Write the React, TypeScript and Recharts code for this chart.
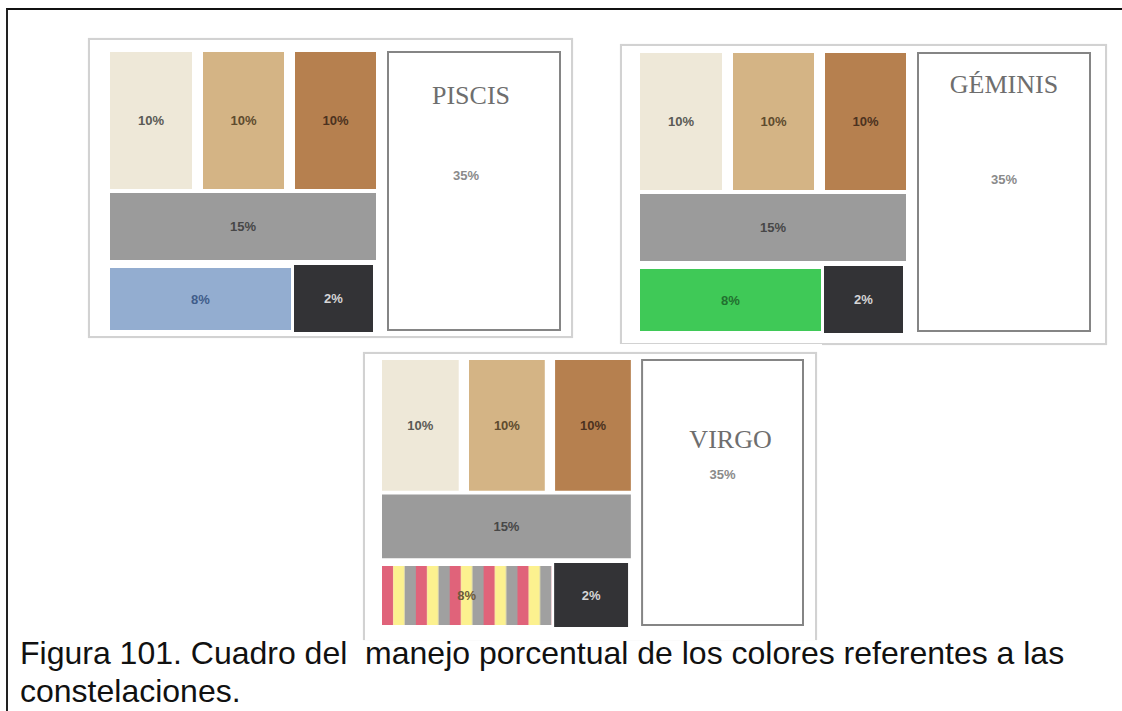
import { ComposedChart, ReferenceArea, Scatter, XAxis, YAxis } from 'recharts';

// porcentaje de cada color dentro del cuadro
const swatches = ['crema', 'arena', 'cafe', 'gris', 'acento', 'negro', 'blanco'];
const shares = [10, 10, 10, 15, 8, 2, 35];
const constellations = ['PISCIS', 'GÉMINIS', 'VIRGO'];
const accents = ['azul', 'verde', 'rayas'];
const caption = [
  'Figura 101. Cuadro del  manejo porcentual de los colores referentes a las',
  'constelaciones.',
];

// posición de cada color en la retícula del cuadro (unidades del eje)
const grid: Record<string, [number, number, number, number]> = {
  crema: [0, 82, 0, 137],
  arena: [93, 174, 0, 137],
  cafe: [185, 266, 0, 137],
  gris: [0, 266, 141, 208],
  acento: [0, 181, 216, 278],
  negro: [184, 263, 213, 280],
  blanco: [278, 450, 0, 278],
};

const fills: Record<string, string> = {
  crema: '#eee8d8',
  arena: '#d4b485',
  cafe: '#b6804f',
  gris: '#9b9b9b',
  negro: '#333336',
  blanco: '#ffffff',
  azul: '#93add0',
  verde: '#3fc957',
  rayas: 'url(#rayas)',
};

const ink: Record<string, string> = {
  crema: '#5a5a55',
  arena: '#5e4b2e',
  cafe: '#4c3220',
  gris: '#474747',
  negro: '#d6d6d6',
  blanco: '#8a8a8a',
  azul: '#3f5c8a',
  verde: '#22702f',
  rayas: '#6b5a3a',
};

const panels = [
  { frame: { x: 88, y: 38, w: 485, h: 300, open: false }, plot: { x: 110, y: 52, w: 450, h: 280 }, title: { dx: -3, dy: 52 }, pct: { dx: -8, dy: 123 } },
  { frame: { x: 620, y: 44, w: 487, h: 301, open: false }, plot: { x: 640, y: 53, w: 450, h: 280 }, title: { dx: 0, dy: 40 }, pct: { dx: 0, dy: 126 } },
  { frame: { x: 363, y: 352, w: 454, h: 288, open: true }, plot: { x: 382, y: 360, w: 421, h: 267 }, title: { dx: 8, dy: 88 }, pct: { dx: 0, dy: 114 } },
];

const PAD = 10;

function Panel({ index }: { index: number }) {
  const p = panels[index];
  const accent = accents[index];
  const cells = swatches.map((key, i) => {
    const [x1, x2, y1, y2] = grid[key];
    const colour = key === 'acento' ? accent : key;
    return { key, colour, share: shares[i], x1, x2, y1, y2, cx: (x1 + x2) / 2, cy: (y1 + y2) / 2 };
  });

  return (
    <>
      <div
        style={{
          position: 'absolute',
          left: p.frame.x,
          top: p.frame.y,
          width: p.frame.w,
          height: p.frame.h,
          boxSizing: 'border-box',
          border: '2px solid #d2d2d2',
          borderBottom: p.frame.open ? 'none' : '2px solid #d2d2d2',
          boxShadow: '0 0 1px #e6e6e6',
        }}
      />
      <div style={{ position: 'absolute', left: p.plot.x - PAD, top: p.plot.y - PAD }}>
        <ComposedChart
          width={p.plot.w + PAD * 2}
          height={p.plot.h + PAD * 2}
          data={cells}
          margin={{ top: PAD, right: PAD, bottom: PAD, left: PAD }}
        >
          <XAxis dataKey="cx" type="number" domain={[0, 450]} hide />
          <YAxis dataKey="cy" type="number" domain={[0, 280]} reversed hide />
          {cells.map((c) => {
            const isBox = c.key === 'blanco';
            return (
              <ReferenceArea
                key={c.key}
                x1={c.x1}
                x2={c.x2}
                y1={c.y1}
                y2={c.y2}
                fill={fills[c.colour]}
                fillOpacity={1}
                stroke={isBox ? '#858585' : 'none'}
                strokeWidth={isBox ? 2 : 0}
                ifOverflow="visible"
                label={
                  isBox
                    ? (props: any) => {
                        const vb = props.viewBox || {};
                        const mid = vb.x + vb.width / 2;
                        return (
                          <g>
                            <text
                              x={mid + p.title.dx}
                              y={vb.y + p.title.dy}
                              textAnchor="middle"
                              fontFamily="'Liberation Serif', 'DejaVu Serif', serif"
                              fontSize={26}
                              fill="#6e6e6e"
                            >
                              {constellations[index]}
                            </text>
                            <text
                              x={mid + p.pct.dx}
                              y={vb.y + p.pct.dy}
                              textAnchor="middle"
                              dominantBaseline="central"
                              fontFamily="'Liberation Sans', Arial, sans-serif"
                              fontSize={13}
                              fontWeight={700}
                              fill={ink.blanco}
                            >
                              {`${c.share}%`}
                            </text>
                          </g>
                        );
                      }
                    : {
                        value: `${c.share}%`,
                        position: 'center',
                        fill: ink[c.colour],
                        fontSize: 13,
                        fontWeight: 700,
                        fontFamily: "'Liberation Sans', Arial, sans-serif",
                      }
                }
              />
            );
          })}
          <Scatter dataKey="cy" fill="transparent" shape={() => <g />} isAnimationActive={false} />
        </ComposedChart>
      </div>
    </>
  );
}

export default function App() {
  return (
    <div style={{ position: 'absolute', left: 0, top: 0, width: 1122, height: 711, background: '#fff', overflow: 'hidden' }}>
      <svg width={0} height={0} style={{ position: 'absolute' }}>
        <defs>
          <pattern id="rayas" patternUnits="objectBoundingBox" patternContentUnits="objectBoundingBox" width={0.2} height={1}>
            <rect x={0} y={0} width={1 / 15} height={1} fill="#e0637a" />
            <rect x={1 / 15} y={0} width={1 / 15} height={1} fill="#fcf18f" />
            <rect x={2 / 15} y={0} width={1 / 15} height={1} fill="#a0a0a0" />
          </pattern>
        </defs>
      </svg>
      <div
        style={{
          position: 'absolute',
          left: 6,
          top: 8,
          width: 1116,
          height: 703,
          borderTop: '2px solid #111',
          borderLeft: '2px solid #222',
        }}
      />
      <Panel index={0} />
      <Panel index={1} />
      <div style={{ position: 'absolute', left: 352, top: 344, width: 470, height: 296, background: '#fff' }} />
      <Panel index={2} />
      <svg width={1122} height={80} style={{ position: 'absolute', left: 0, top: 631 }}>
        {caption.map((line, i) => (
          <text
            key={i}
            x={20}
            y={33 + i * 38}
            fontFamily="'Liberation Sans', Arial, sans-serif"
            fontSize={32}
            fill="#111"
            style={{ whiteSpace: 'pre' }}
          >
            {line}
          </text>
        ))}
      </svg>
    </div>
  );
}
